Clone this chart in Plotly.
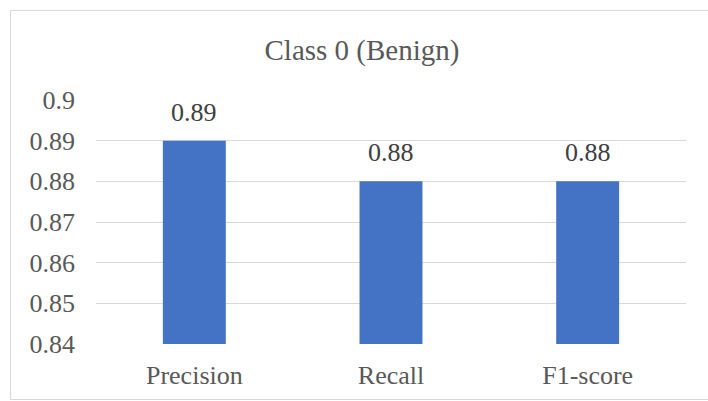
import plotly.graph_objects as go

# Per-class metrics for Class 0 (Benign)
metrics = ["Precision", "Recall", "F1-score"]
scores = [0.89, 0.88, 0.88]
y_ticks = [0.84, 0.85, 0.86, 0.87, 0.88, 0.89, 0.9]

W, H = 708, 401
L, R, T, B = 96, 22, 100, 57
plot_w = W - L - R
plot_h = H - T - B


def px_x(px):
    return (px - L) / plot_w


def px_y(py):
    return (H - B - py) / plot_h


FONT = "Times New Roman, Liberation Serif, serif"
AXIS_COLOR = "#595959"

fig = go.Figure(
    go.Bar(
        x=metrics,
        y=scores,
        marker=dict(color="#4472C4", line=dict(width=0)),
        hoverinfo="x+y",
    )
)

# value labels sitting a little above each bar
for m, v in zip(metrics, scores):
    fig.add_annotation(
        x=m,
        y=v,
        text=f"{v:.2f}",
        showarrow=False,
        yanchor="bottom",
        yshift=12,
        font=dict(family=FONT, size=26, color="#404040"),
    )

fig.update_layout(
    width=W,
    height=H,
    margin=dict(l=L, r=R, t=T, b=B),
    paper_bgcolor="white",
    plot_bgcolor="white",
    font=dict(family=FONT),
    bargap=0.68,
    showlegend=False,
    title=dict(
        text="Class 0 (Benign)",
        x=0.5 + (362 - W / 2) / W,
        xanchor="center",
        y=1 - 50 / H,
        yanchor="middle",
        yref="container",
        font=dict(family=FONT, size=29, color=AXIS_COLOR),
    ),
    xaxis=dict(
        showgrid=False,
        showline=False,
        zeroline=False,
        ticks="",
        ticklabelstandoff=13,
        tickfont=dict(family=FONT, size=26, color=AXIS_COLOR),
    ),
    yaxis=dict(
        range=[0.84, 0.9],
        tickvals=y_ticks,
        ticktext=[f"{v:g}" for v in y_ticks],
        showgrid=True,
        gridcolor="#D9D9D9",
        gridwidth=1,
        zeroline=False,
        showline=False,
        ticks="",
        ticklabelstandoff=20,
        tickfont=dict(family=FONT, size=26, color=AXIS_COLOR),
    ),
    shapes=[
        dict(
            type="rect",
            xref="paper",
            yref="paper",
            x0=px_x(10.5),
            x1=px_x(720),
            y0=px_y(399.5),
            y1=px_y(10.5),
            line=dict(color="#D9D9D9", width=1),
            fillcolor="rgba(0,0,0,0)",
            layer="below",
        )
    ],
)

fig.write_html("out.html")
